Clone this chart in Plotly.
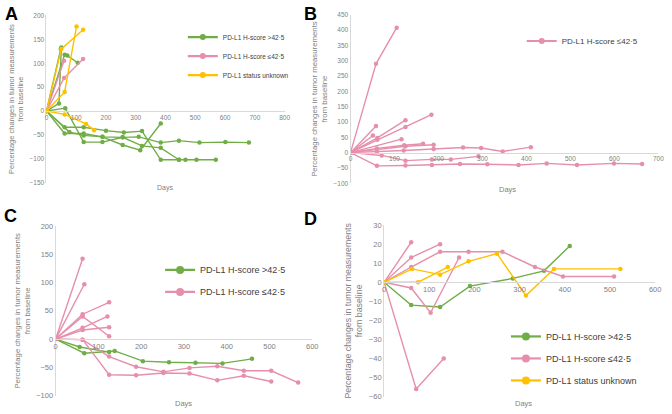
import plotly.graph_objects as go

W, H = 672, 414
GREEN = "#70AD47"
PINK = "#E68FAC"
YELLOW = "#FFC000"
AXIS = "#D9D9D9"
TXT = "#7F7F7F"
FONT = "Liberation Sans, Arial, sans-serif"

LBL_HI = "PD-L1 H-score >42·5"
LBL_LO = "PD-L1 H-score ≤42·5"
LBL_UNK = "PD-L1 status unknown"

# ---------------- Panel A ----------------
A_hi_days = [[0, 42, 50], [0, 48], [0, 61, 70, 105],
             [0, 61, 125, 200, 260, 321, 384, 445, 467, 504, 569],
             [0, 61, 125, 188, 256, 310, 384, 445, 514, 601, 680],
             [0, 63, 125, 188, 256, 321, 384, 445],
             [0, 77, 125, 188, 256, 315, 384]]
A_hi_vals = [[0, 16, 133], [0, 130], [0, 118, 116, 101],
             [0, -34, -34, -41, -45, -42, -102, -102, -102, -102, -102],
             [0, -47, -47, -54, -55, -54, -66, -62, -66, -65, -66],
             [0, 6, -65, -65, -55, -73, -77, -102],
             [0, -44, -51, -54, -71, -82, -26]]
A_lo_days = [[0, 59], [0, 59, 123]]
A_lo_vals = [[0, 105], [0, 69, 109]]
A_unk_days = [[0, 50, 123], [0, 61, 101], [0, 61, 133, 160]]
A_unk_vals = [[0, 130, 170], [0, 40, 177], [0, -7, -27, -40]]

# ---------------- Panel B ----------------
B_lo_days = [[0, 58, 105], [0, 58], [0, 51], [0, 61, 125], [0, 61, 125, 184],
             [0, 116], [0, 60, 122, 165], [0, 60, 125, 189],
             [0, 60, 121, 189, 256, 297, 346, 410],
             [0, 71, 125, 185, 228, 291],
             [0, 60, 125, 185, 249, 311, 382, 446, 515, 599, 663]]
B_lo_vals = [[0, 290, 408], [0, 87], [0, 56], [0, 48, 106], [0, 42, 84, 124],
             [0, 44], [0, 14, 24, 29], [0, 10, 21, 26],
             [0, 3, 7, 12, 17, 15, 4, 18],
             [0, -9, -26, -22, -22, -12],
             [0, -43, -42, -40, -37, -38, -40, -35, -40, -35, -37]]

# ---------------- Panel C ----------------
C_hi_days = [[0, 56, 125], [0, 67, 138, 204, 265, 327, 390, 459]]
C_hi_vals = [[0, -14, -23], [0, -25, -21, -39, -41, -42, -43, -35]]
C_lo_days = [[0, 63], [0, 67], [0, 63, 125], [0, 63, 125], [0, 63, 121], [0, 63, 125],
             [0, 63, 125, 188, 252, 313, 378, 440, 504, 567],
             [0, 63, 125, 188, 252, 313, 378, 440, 504]]
C_lo_vals = [[0, 142], [0, 97], [0, 44, 65], [0, 40, 5], [0, 20, 40], [0, 16, 21],
             [0, -1, -31, -49, -58, -51, -48, -56, -56, -77],
             [0, -1, -63, -64, -60, -61, -73, -65, -75]]

# ---------------- Panel D ----------------
D_hi_days = [[0, 60, 124, 190, 285, 354, 411]]
D_hi_vals = [[0, -12, -13, -2, 2, 6, 19]]
D_lo_days = [[0, 60], [0, 60, 124], [0, 60, 124, 187, 262, 334, 396, 509],
             [0, 60, 103, 166], [0, 71, 132]]
D_lo_vals = [[0, 21], [0, 13, 20], [0, 8, 16, 16, 16, 8, 3, 3],
             [0, -3, -16, 13], [0, -56, -40]]
D_unk_days = [[0, 62, 124, 187, 250, 314, 376, 523], [0, 75, 141]]
D_unk_vals = [[0, 7, 4, 11, 15, -7, 7, 7], [0, 0, 8]]

fig = go.Figure()


def px(x):
    return x / W


def py(y):
    return 1 - y / H


panels = {
    "A": dict(xd=(45, 286), yd=(11.7, 182.7), xr=(0, 800), yr=(-150, 200), dy=50, dx=100),
    "B": dict(xd=(352.7, 664.3), yd=(11, 183.3), xr=(0, 700), yr=(-100, 450), dy=50, dx=100),
    "C": dict(xd=(54.3, 314), yd=(227, 400.3), xr=(0, 600), yr=(-100, 200), dy=50, dx=100),
    "D": dict(xd=(386.7, 661), yd=(226, 401.3), xr=(0, 600), yr=(-60, 30), dy=10, dx=100),
}
axis_ids = {"A": ("x", "y", ""), "B": ("x2", "y2", "2"), "C": ("x3", "y3", "3"), "D": ("x4", "y4", "4")}
legend_ids = {"A": "legend", "B": "legend2", "C": "legend3", "D": "legend4"}
tick_sz = {"A": 6.5, "B": 6.5, "C": 7.5, "D": 7.5}
title_sz = {"A": 7.5, "B": 7.8, "C": 7.8, "D": 8.8}

for name, p in panels.items():
    xa, ya, suf = axis_ids[name]
    y0, y1 = p["yd"]
    ylo, yhi = p["yr"]
    dom_y = (py(y1), py(y0))
    zero_frac = dom_y[0] + (0 - ylo) / (yhi - ylo) * (dom_y[1] - dom_y[0])
    fig.layout["xaxis" + suf] = dict(
        domain=[px(p["xd"][0]), px(p["xd"][1])], range=list(p["xr"]),
        anchor="free", position=zero_frac, showline=True, linecolor=AXIS, linewidth=1,
        showgrid=False, zeroline=False, ticks="", dtick=p["dx"], tick0=0,
        ticklabeloverflow="allow",
        tickfont=dict(size=tick_sz[name], color=TXT, family=FONT), fixedrange=True)
    fig.layout["yaxis" + suf] = dict(
        domain=list(dom_y), range=[ylo, yhi], anchor=xa, showline=True, linecolor=AXIS,
        linewidth=1, showgrid=False, zeroline=False, ticks="", dtick=p["dy"], tick0=0,
        ticklabeloverflow="allow",
        tickfont=dict(size=tick_sz[name], color=TXT, family=FONT),
        title=dict(text="Percentage changes in tumor measurements<br>from baseline",
                   font=dict(size=title_sz[name], color=TXT, family=FONT), standoff=4),
        fixedrange=True)


def add_group(panel, days_list, vals_list, color, label):
    xa, ya, _ = axis_ids[panel]
    for d, v in zip(days_list, vals_list):
        fig.add_trace(go.Scatter(x=d, y=v, mode="lines+markers", xaxis=xa, yaxis=ya,
                                 line=dict(color=color, width=1.4),
                                 marker=dict(color=color, size=4.5),
                                 showlegend=False, hoverinfo="skip"))
    # legend entry
    fig.add_trace(go.Scatter(x=[None], y=[None], mode="lines+markers", xaxis=xa, yaxis=ya,
                             line=dict(color=color, width=2.2),
                             marker=dict(color=color, size=8 if panel in "CD" else 6),
                             name=label, legend=legend_ids[panel], showlegend=True,
                             legendgroup=panel + label))


add_group("A", A_hi_days, A_hi_vals, GREEN, LBL_HI)
add_group("A", A_lo_days, A_lo_vals, PINK, LBL_LO)
add_group("A", A_unk_days, A_unk_vals, YELLOW, LBL_UNK)
add_group("B", B_lo_days, B_lo_vals, PINK, LBL_LO)
add_group("C", C_hi_days, C_hi_vals, GREEN, LBL_HI)
add_group("C", C_lo_days, C_lo_vals, PINK, LBL_LO)
add_group("D", D_hi_days, D_hi_vals, GREEN, LBL_HI)
add_group("D", D_lo_days, D_lo_vals, PINK, LBL_LO)
add_group("D", D_unk_days, D_unk_vals, YELLOW, LBL_UNK)


def legend_cfg(x, y, size, gap):
    return dict(x=px(x), y=py(y), xanchor="left", yanchor="top", bgcolor="rgba(0,0,0,0)",
                font=dict(size=size, color="#404040", family=FONT), traceorder="grouped",
                tracegroupgap=gap, itemclick=False, itemdoubleclick=False)


fig.update_layout(
    width=W, height=H, margin=dict(l=0, r=0, t=0, b=0),
    paper_bgcolor="white", plot_bgcolor="white",
    font=dict(family=FONT, color=TXT),
    legend=legend_cfg(183, 19, 6.5, 0),
    legend2=legend_cfg(526, 23, 8, 0),
    legend3=legend_cfg(160, 257, 9, 3),
    legend4=legend_cfg(510, 325, 9, 3),
)

ann = []
for txt, x, y, sz in [("Days", 165, 188, 7), ("Days", 512, 190, 7.5),
                      ("Days", 184, 408, 7.5), ("Days", 527.7, 408, 7.5)]:
    ann.append(dict(text=txt, x=px(x), y=py(y), xref="paper", yref="paper", showarrow=False,
                    xanchor="center", yanchor="middle", font=dict(size=sz, color=TXT, family=FONT)))
for txt, x, y in [("A", 10, 10), ("B", 312, 10), ("C", 9, 217), ("D", 312, 220)]:
    ann.append(dict(text="<b>%s</b>" % txt, x=px(x), y=py(y), xref="paper", yref="paper",
                    showarrow=False, xanchor="center", yanchor="middle",
                    font=dict(size=18, color="black", family=FONT)))
fig.update_layout(annotations=ann)

fig.write_html("out.html", config={"displayModeBar": False},
               post_script="document.body.style.margin='0px';")
